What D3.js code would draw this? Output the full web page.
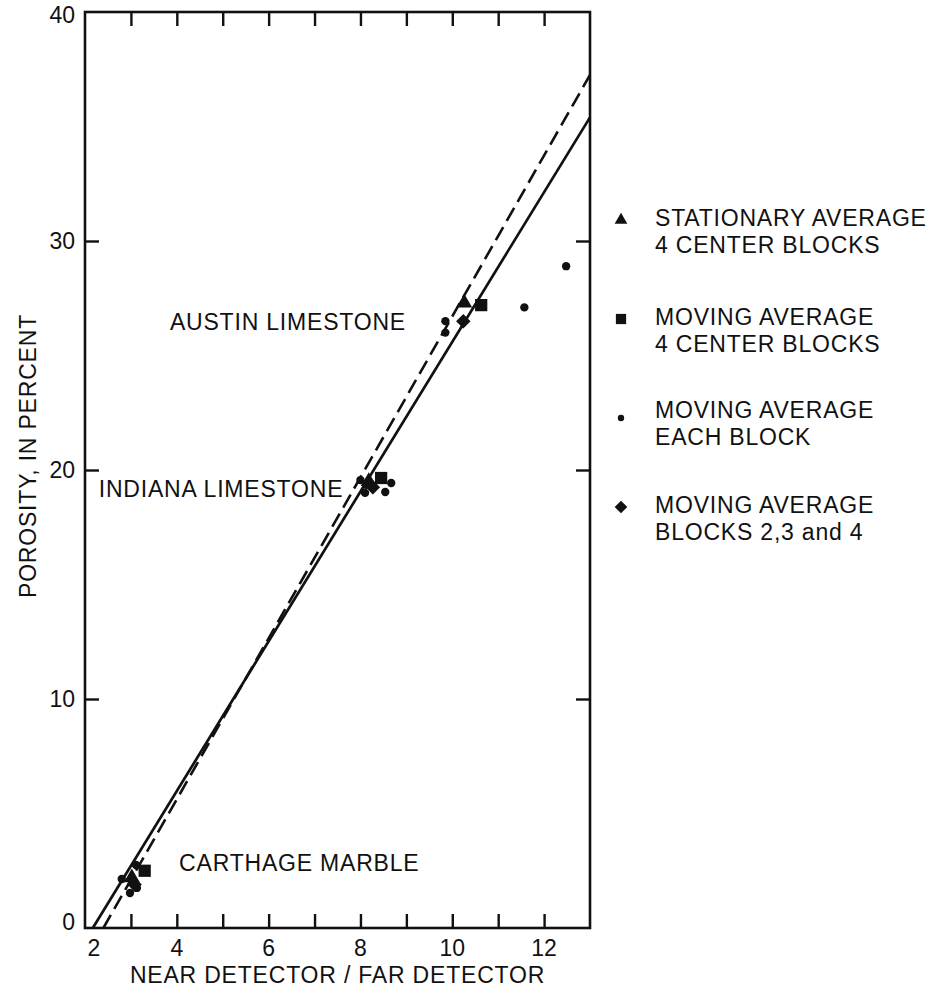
<!DOCTYPE html>
<html>
<head>
<meta charset="utf-8">
<script src="https://cdn.jsdelivr.net/npm/d3@7"></script>
<style>
  html, body { margin: 0; padding: 0; background: #fff; overflow: hidden; }
  #chart svg { display: block; }
  svg text { font-family: "Liberation Sans", Arial, Helvetica, sans-serif; fill: #111; }
  .frame line { stroke: #111; }
</style>
</head>
<body>
<div id="chart"></div>
<script>
// Chart data
const xTickLabels = [2, 4, 6, 8, 10, 12];
const xMinorTicks = [3, 4, 5, 6, 7, 8, 9, 10, 11, 12];
const yTickLabels = [0, 10, 20, 30, 40];
const yMinorTicks = [10, 20, 30];

// stationary average, 4 center blocks (Carthage, Indiana, Austin)
const stationaryX = [3.02, 8.18, 10.26];
const stationaryY = [2.2, 19.5, 27.3];
// moving average, 4 center blocks
const movingCenterX = [3.30, 8.45, 10.63];
const movingCenterY = [2.5, 19.65, 27.2];
// moving average, each block
const eachBlockX = [2.80, 3.11, 3.13, 2.98, 8.0, 8.12, 8.1, 8.67, 8.54, 9.85, 9.85, 11.57, 12.48];
const eachBlockY = [2.14, 2.75, 1.75, 1.53, 19.56, 19.35, 19.0, 19.43, 19.04, 26.5, 26.0, 27.1, 28.9];
// moving average, blocks 2, 3 and 4
const blocks234X = [3.08, 8.27, 10.24];
const blocks234Y = [1.9, 19.25, 26.5];

// fitted lines (end points in data units)
const solidFitX = [2.17, 13];
const solidFitY = [0, 35.4];
const dashedFitX = [2.40, 13];
const dashedFitY = [0, 37.25];

const sampleNames = ["AUSTIN LIMESTONE", "INDIANA LIMESTONE", "CARTHAGE MARBLE"];
const sampleLabelX = [3.85, 2.3, 4.05];
const sampleLabelY = [26.1, 18.8, 2.5];

const legendLines = [
  ["STATIONARY AVERAGE", "4 CENTER BLOCKS"],
  ["MOVING AVERAGE", "4 CENTER BLOCKS"],
  ["MOVING AVERAGE", "EACH BLOCK"],
  ["MOVING AVERAGE", "BLOCKS 2,3 and 4"]
];

// Layout
const width = 937, height = 995;
const margin = { top: 12, right: 347, bottom: 67, left: 85 };
const innerWidth = width - margin.left - margin.right;
const innerHeight = height - margin.top - margin.bottom;
const tickLen = 14;
const fontSize = 23;

const xScale = d3.scaleLinear().domain([2, 13]).range([margin.left, margin.left + innerWidth]);
const yScale = d3.scaleLinear().domain([0, 40]).range([margin.top + innerHeight, margin.top]);

const svg = d3.select("#chart")
  .append("svg")
  .attr("width", width)
  .attr("height", height);

// fitted lines
const lineGen = d3.line().x(d => xScale(d[0])).y(d => yScale(d[1]));
svg.append("path")
  .attr("d", lineGen(d3.zip(solidFitX, solidFitY)))
  .attr("fill", "none")
  .attr("stroke", "#111")
  .attr("stroke-width", 2.7);
svg.append("path")
  .attr("d", lineGen(d3.zip(dashedFitX, dashedFitY)))
  .attr("fill", "none")
  .attr("stroke", "#111")
  .attr("stroke-width", 2.6)
  .attr("stroke-dasharray", "15 7");

// axes: ticks point inward on all four sides
const frame = svg.append("g").attr("class", "frame");
frame.append("g")
  .attr("transform", `translate(0, ${margin.top + innerHeight})`)
  .call(d3.axisTop(xScale).tickValues(xMinorTicks).tickSize(tickLen).tickFormat(""))
  .call(g => g.select(".domain").remove());
frame.append("g")
  .attr("transform", `translate(0, ${margin.top})`)
  .call(d3.axisBottom(xScale).tickValues(xMinorTicks).tickSize(tickLen).tickFormat(""))
  .call(g => g.select(".domain").remove());
frame.append("g")
  .attr("transform", `translate(${margin.left}, 0)`)
  .call(d3.axisRight(yScale).tickValues(yMinorTicks).tickSize(tickLen).tickFormat(""))
  .call(g => g.select(".domain").remove());
frame.append("g")
  .attr("transform", `translate(${margin.left + innerWidth}, 0)`)
  .call(d3.axisLeft(yScale).tickValues(yMinorTicks).tickSize(tickLen).tickFormat(""))
  .call(g => g.select(".domain").remove());
frame.selectAll(".tick line").attr("stroke-width", 2.4);

frame.append("rect")
  .attr("x", margin.left)
  .attr("y", margin.top)
  .attr("width", innerWidth)
  .attr("height", innerHeight)
  .attr("fill", "none")
  .attr("stroke", "#111")
  .attr("stroke-width", 2.6);

// tick labels
svg.append("g")
  .selectAll("text")
  .data(xTickLabels)
  .join("text")
    .attr("x", d => xScale(d) + (d === 2 ? 9 : 0))
    .attr("y", margin.top + innerHeight + 28)
    .attr("text-anchor", "middle")
    .attr("font-size", fontSize)
    .text(d => d);

svg.append("g")
  .selectAll("text")
  .data(yTickLabels)
  .join("text")
    .attr("x", margin.left - 10)
    .attr("y", d => yScale(d) + 8 + (d === 40 ? 3 : 0) - (d === 0 ? 6 : 0))
    .attr("text-anchor", "end")
    .attr("font-size", fontSize)
    .text(d => d);

// axis titles
svg.append("text")
  .text("NEAR DETECTOR / FAR DETECTOR")
  .attr("x", margin.left + innerWidth / 2)
  .attr("y", height - 12)
  .attr("text-anchor", "middle")
  .attr("font-size", fontSize)
  .attr("letter-spacing", 0.8);

const yTitleX = 36, yTitleY = 456;
svg.append("text")
  .text("POROSITY, IN PERCENT")
  .attr("x", yTitleX)
  .attr("y", yTitleY)
  .attr("transform", `rotate(-90, ${yTitleX}, ${yTitleY})`)
  .attr("text-anchor", "middle")
  .attr("font-size", fontSize)
  .attr("letter-spacing", 0.8);

// sample labels
svg.append("g")
  .selectAll("text")
  .data(sampleNames)
  .join("text")
    .attr("x", (d, i) => xScale(sampleLabelX[i]))
    .attr("y", (d, i) => yScale(sampleLabelY[i]))
    .attr("font-size", fontSize)
    .attr("letter-spacing", 0.8)
    .text(d => d);

// markers
const triangle = d3.symbol().type(d3.symbolTriangle);
const square = d3.symbol().type(d3.symbolSquare);
const dot = d3.symbol().type(d3.symbolCircle);

svg.append("g")
  .selectAll("path")
  .data(d3.zip(eachBlockX, eachBlockY))
  .join("path")
    .attr("transform", d => `translate(${xScale(d[0])}, ${yScale(d[1])})`)
    .attr("d", dot.size(55)())
    .attr("fill", "#111");

svg.append("g")
  .selectAll("path")
  .data(d3.zip(blocks234X, blocks234Y))
  .join("path")
    .attr("transform", d => `translate(${xScale(d[0])}, ${yScale(d[1])}) rotate(45)`)
    .attr("d", square.size(105)())
    .attr("fill", "#111");

svg.append("g")
  .selectAll("path")
  .data(d3.zip(movingCenterX, movingCenterY))
  .join("path")
    .attr("transform", d => `translate(${xScale(d[0])}, ${yScale(d[1])})`)
    .attr("d", square.size(150)())
    .attr("fill", "#111");

svg.append("g")
  .selectAll("path")
  .data(d3.zip(stationaryX, stationaryY))
  .join("path")
    .attr("transform", d => `translate(${xScale(d[0])}, ${yScale(d[1])})`)
    .attr("d", triangle.size(110)())
    .attr("fill", "#111");

// legend
const legendTop = [218, 317, 410, 505];
const legendSymbols = [
  { gen: triangle, size: 70, rot: 0 },
  { gen: square, size: 105, rot: 0 },
  { gen: dot, size: 32, rot: 0 },
  { gen: square, size: 80, rot: 45 }
];
const legend = svg.append("g");
legendLines.forEach((lines, i) => {
  const s = legendSymbols[i];
  legend.append("path")
    .attr("transform", `translate(621, ${legendTop[i] + (i === 2 ? 8 : 2)}) rotate(${s.rot})`)
    .attr("d", s.gen.size(s.size)())
    .attr("fill", "#111");
  lines.forEach((t, j) => {
    legend.append("text")
      .attr("x", 655)
      .attr("y", legendTop[i] + 8 + j * 27)
      .attr("font-size", fontSize)
      .attr("letter-spacing", 0.8)
      .text(t);
  });
});
</script>
</body>
</html>
